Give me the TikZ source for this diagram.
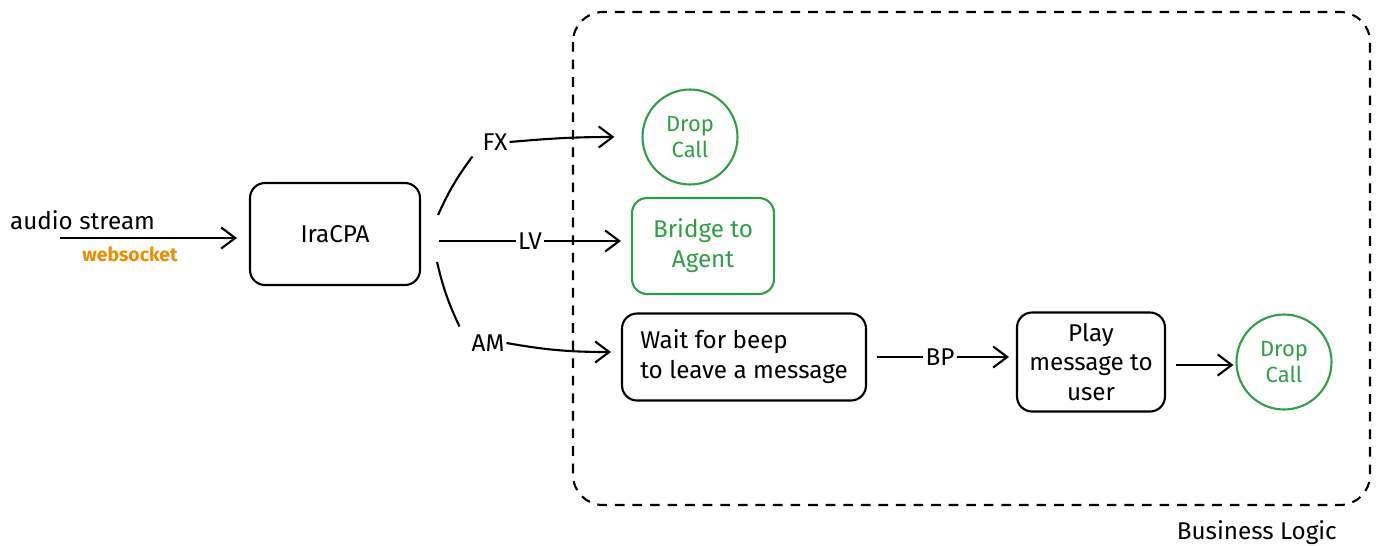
\documentclass[tikz,border=0pt]{standalone}
\usepackage{fontspec}
\setmainfont{Fira Sans}
\usetikzlibrary{arrows.meta,calc}
\definecolor{dropgreen}{RGB}{47,158,68}
\definecolor{sockorange}{RGB}{240,140,0}
\newcommand{\logicleft}{573}
\newcommand{\logicright}{1370}
\newcommand{\logictop}{12}
\newcommand{\logicbottom}{505}
\newcommand{\toprow}{137}
\newcommand{\midrow}{241}
\newcommand{\lowrow}{357}

\begin{document}
\begin{tikzpicture}[x=0.02cm,y=-0.02cm,font=\fontsize{13.8}{17}\selectfont]
\tikzstyle{box}=[draw,line width=1.2pt,rounded corners=0.3cm,align=center,inner sep=0pt]
\tikzstyle{dropcall}=[draw=dropgreen,text=dropgreen,line width=1.2pt,circle,minimum size=1.9cm,align=center,inner sep=0pt,font=\fontsize{12.5}{15}\selectfont]
\tikzstyle{arr}=[line width=1.2pt,-{Straight Barb[length=8pt,width=12pt,line width=1.2pt]}]
\tikzstyle{link}=[line width=1.2pt]
\tikzstyle{lab}=[inner sep=1pt]

\useasboundingbox (0,0) rectangle (1379,545);

% business logic frame
\draw[line width=1.2pt,dash pattern=on 5.5pt off 4.5pt,rounded corners=0.6cm]
  (\logicleft,\logictop) rectangle (\logicright,\logicbottom);
\node[anchor=north east] (logic) at (1343,514) {Business Logic};

\node[box,minimum width=3.4cm,minimum height=2.04cm] (cpa) at (335,234) {IraCPA};

\node[dropcall] (dropone) at (690,137) {Drop\\Call};
\node[box,draw=dropgreen,text=dropgreen,minimum width=2.84cm,minimum height=1.92cm] (bridge) at (703,246) {Bridge to\\Agent};
\node[box,minimum width=4.88cm,minimum height=1.74cm,align=left] (wait) at (744,357) {Wait for beep\\to leave a message};
\node[box,minimum width=2.96cm,minimum height=1.98cm] (play) at (1091,362) {Play\\message to\\user};
\node[dropcall] (droptwo) at (1284,362) {Drop\\Call};

% input
\coordinate (in) at (60,238);
\draw[arr] (in) -- ($(cpa.west |- in)+(-12,0)$);
\node[anchor=south west,lab] (audio) at (8,232) {audio stream};
\node[anchor=north,text=sockorange,font=\fontsize{11}{13}\selectfont\bfseries,lab] (sock) at (130,245) {websocket};

% outcomes
\node[lab] (fx) at (495,142) {FX};
\node[lab] (lv) at (530,\midrow) {LV};
\node[lab] (am) at (488,343) {AM};
\draw[link] ($(cpa.east)+(17,-19)$) to[bend left=6] ($(fx.south west)+(-8,4)$);
\draw[arr] (fx.east) to[out=5,in=180] ($(dropone.west)+(-27,0)$);
\draw[link] ($(cpa.east |- lv)+(18,0)$) -- (lv.west);
\draw[arr] (lv.east) -- ($(bridge.west |- lv)+(-10,0)$);
\draw[link] ($(cpa.east)+(16,28)$) to[bend right=6] ($(am.north west)+(-10,-6)$);
\draw[arr] (am.east) to[out=-10,in=180] ($(wait.west)+(-10,-5)$);

% voicemail branch
\node[lab] (bp) at (940,\lowrow) {BP};
\draw[link] ($(wait.east)+(10,0)$) -- (bp.west);
\draw[arr] (bp.east) -- ($(play.west |- bp)+(-7,0)$);
\draw[arr] ($(play.east)+(10,3)$) -- ($(droptwo.west)+(-2,3)$);
\end{tikzpicture}
\end{document}
